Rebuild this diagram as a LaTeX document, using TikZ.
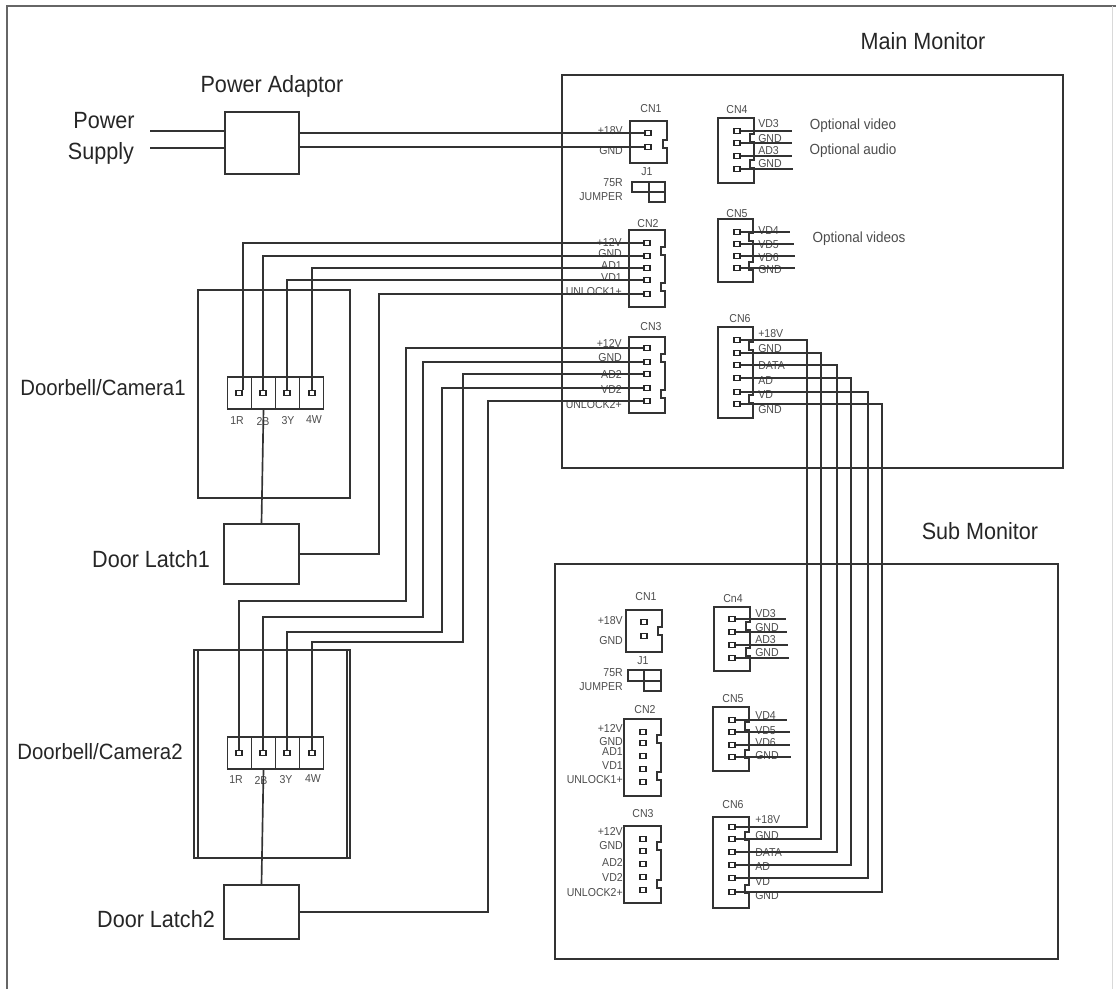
\documentclass[tikz,border=0pt]{standalone}
\usepackage{fontspec}
\setmainfont[FakeStretch=0.92]{Liberation Sans}
\usepackage{tikz}

\tikzset{
  wire/.style={line width=1.25pt, draw=black!80},
  box/.style={shape=rectangle, draw=black!80, line width=1.25pt, inner sep=0pt},
  cell/.style={box, minimum width=18pt, minimum height=24pt},
  pin/.style={shape=rectangle, draw=black!85, fill=white, line width=0.9pt, inner sep=0pt, minimum width=4.6pt, minimum height=4pt},
  title/.style={inner sep=0pt, text=black!85, font=\fontsize{17.6}{20}\selectfont},
  camtitle/.style={title, font=\fontsize{16.6}{20}\selectfont},
  note/.style={inner sep=0pt, text=black!70, font=\fontsize{11}{12}\selectfont},
  tag/.style={inner sep=0pt, text=black!70, font=\fontsize{8.6}{10}\selectfont},
  tagr/.style={tag, anchor=east},
  tagl/.style={tag, anchor=west}
}

\newcommand{\housingone}[5]{\draw [wire] (#1,#2) -- (#3,#2) -- (#3,#5) -- (#3-4,#5) -- (#3-4,#5+8) -- (#3,#5+8) -- (#3,#4) -- (#1,#4) -- cycle;}
\newcommand{\housing}[6]{\draw [wire] (#1,#2) -- (#3,#2) -- (#3,#5) -- (#3-4,#5) -- (#3-4,#5+8) -- (#3,#5+8) -- (#3,#6) -- (#3-4,#6) -- (#3-4,#6+8) -- (#3,#6+8) -- (#3,#4) -- (#1,#4) -- cycle;}

\begin{document}
\begin{tikzpicture}[x=0.75pt, y=-0.75pt]
  \useasboundingbox (0,0) rectangle (1116,989);
  \draw [line width=1pt, draw=black!60] (7,989) -- (7,6) -- (1116,6);
  \draw [line width=0.5pt, draw=black!15] (1112,6) -- (1112,989);

  \node (mainname) at (923,41) [title] {Main Monitor};
  \node (subname) at (980,531) [title] {Sub Monitor};
  \node (adaptorname) at (272,86) [title] {Power Adaptor};
  \node (powername) at (104,121) [title] {Power};
  \node (supplyname) at (101,153) [title] {Supply};
  \node (camonename) at (103,388) [camtitle] {Doorbell/Camera1};
  \node (camtwoname) at (100,752) [camtitle] {Doorbell/Camera2};
  \node (latchonename) at (151,559) [title] {Door Latch1};
  \node (latchtwoname) at (156,919) [title] {Door Latch2};

  \node (main) at (812.5,271.5) [box, minimum width=375.75pt, minimum height=294.75pt] {};
  \node (sub) at (806.5,761.5) [box, minimum width=377.25pt, minimum height=296.25pt] {};
  \node (adaptor) at (262,143) [box, minimum width=55.5pt, minimum height=46.5pt] {};
  \node (camone) at (274,394) [box, minimum width=114pt, minimum height=156pt] {};
  \node (camtwo) at (272,754) [box, minimum width=117pt, minimum height=156pt] {};
  \node (camtwoin) at (272.5,754) [box, minimum width=111.75pt, minimum height=156pt] {};
  \node (latchone) at (261.5,554) [box, minimum width=56.25pt, minimum height=45pt] {};
  \node (latchtwo) at (261.5,912) [box, minimum width=56.25pt, minimum height=40.5pt] {};

  \node (a1) at (239.5,393) [cell] {};
  \node (a2) at (263.5,393) [cell] {};
  \node (a3) at (287.5,393) [cell] {};
  \node (a4) at (311.5,393) [cell] {};
  \node (b1) at (239.5,753) [cell] {};
  \node (b2) at (263.5,753) [cell] {};
  \node (b3) at (287.5,753) [cell] {};
  \node (b4) at (311.5,753) [cell] {};
  \node (c1) at (239,393) [pin] {};
  \node (c2) at (263,393) [pin] {};
  \node (c3) at (287,393) [pin] {};
  \node (c4) at (312,393) [pin] {};
  \node (d1) at (239,753) [pin] {};
  \node (d2) at (263,753) [pin] {};
  \node (d3) at (287,753) [pin] {};
  \node (d4) at (312,753) [pin] {};
  \node (a1name) at (237,421) [tag] {1R};
  \node (a2name) at (263,421) [tag] {2B};
  \node (a3name) at (288,421) [tag] {3Y};
  \node (a4name) at (314,420) [tag] {4W};
  \node (b1name) at (236,780) [tag] {1R};
  \node (b2name) at (261,780) [tag] {2B};
  \node (b3name) at (286,780) [tag] {3Y};
  \node (b4name) at (313,779) [tag] {4W};

  \housingone{630}{121}{667}{163}{140}
  \housing{629}{230}{665}{307}{247}{283}
  \housing{629}{337}{665}{413}{354}{390}
  \housing{718}{118}{754}{183}{134}{160}
  \housing{718}{219}{753}{282}{233}{262}
  \housing{718}{327}{753}{418}{342}{395}
  \housingone{626}{610}{662}{652}{627}
  \housing{624}{719}{661}{796}{735}{772}
  \housing{624}{826}{661}{903}{842}{880}
  \housing{714}{607}{750}{671}{622}{648}
  \housing{713}{707}{749}{771}{722}{750}
  \housing{713}{817}{749}{908}{832}{885}
  \draw [wire] (632,182) rectangle (665,192);
  \draw [wire] (649,182) rectangle (665,202);
  \draw [wire] (628,670) rectangle (661,681);
  \draw [wire] (644,670) rectangle (661,691);

  \node (m1name) at (651,109) [tag] {CN1};
  \node (m1t) at (623,131) [tagr] {+18V};
  \node (m1g) at (623,151) [tagr] {GND};
  \node (mjname) at (647,172) [tag] {J1};
  \node (mjt) at (623,183) [tagr] {75R};
  \node (mjb) at (623,197) [tagr] {JUMPER};
  \node (m2name) at (648,224) [tag] {CN2};
  \node (m2t) at (622,242) [tagr] {+12V};
  \node (m2g) at (622,254) [tagr] {GND};
  \node (m2v) at (622,266) [tagr] {AD1};
  \node (m2y) at (622,278) [tagr] {VD1};
  \node (m2u) at (622,292) [tagr] {UNLOCK1+};
  \node (m3name) at (651,327) [tag] {CN3};
  \node (m3t) at (622,343) [tagr] {+12V};
  \node (m3g) at (622,358) [tagr] {GND};
  \node (m3v) at (622,374) [tagr] {AD2};
  \node (m3y) at (622,389) [tagr] {VD2};
  \node (m3u) at (622,405) [tagr] {UNLOCK2+};
  \node (m4name) at (737,110) [tag] {CN4};
  \node (m4a) at (758,124) [tagl] {VD3};
  \node (m4b) at (758,139) [tagl] {GND};
  \node (m4c) at (758,151) [tagl] {AD3};
  \node (m4d) at (758,164) [tagl] {GND};
  \node (m5name) at (737,214) [tag] {CN5};
  \node (m5a) at (758,231) [tagl] {VD4};
  \node (m5b) at (758,245) [tagl] {VD5};
  \node (m5c) at (758,258) [tagl] {VD6};
  \node (m5d) at (758,270) [tagl] {GND};
  \node (m6name) at (740,319) [tag] {CN6};
  \node (m6a) at (758,334) [tagl] {+18V};
  \node (m6b) at (758,349) [tagl] {GND};
  \node (m6c) at (758,366) [tagl] {DATA};
  \node (m6d) at (758,381) [tagl] {AD};
  \node (m6e) at (758,395) [tagl] {VD};
  \node (m6f) at (758,410) [tagl] {GND};
  \node (videonote) at (853,126) [note] {Optional video};
  \node (audionote) at (853,151) [note] {Optional audio};
  \node (videosnote) at (859,239) [note] {Optional videos};

  \node (s1name) at (646,597) [tag] {CN1};
  \node (s1t) at (623,621) [tagr] {+18V};
  \node (s1g) at (623,641) [tagr] {GND};
  \node (sjname) at (643,661) [tag] {J1};
  \node (sjt) at (623,673) [tagr] {75R};
  \node (sjb) at (623,687) [tagr] {JUMPER};
  \node (s2name) at (645,710) [tag] {CN2};
  \node (s2t) at (623,728) [tagr] {+12V};
  \node (s2g) at (623,742) [tagr] {GND};
  \node (s2v) at (623,752) [tagr] {AD1};
  \node (s2y) at (623,766) [tagr] {VD1};
  \node (s2u) at (623,780) [tagr] {UNLOCK1+};
  \node (s3name) at (643,814) [tag] {CN3};
  \node (s3t) at (623,831) [tagr] {+12V};
  \node (s3g) at (623,846) [tagr] {GND};
  \node (s3v) at (623,862) [tagr] {AD2};
  \node (s3y) at (623,877) [tagr] {VD2};
  \node (s3u) at (623,893) [tagr] {UNLOCK2+};
  \node (s4name) at (733,599) [tag] {Cn4};
  \node (s4a) at (755,614) [tagl] {VD3};
  \node (s4b) at (755,628) [tagl] {GND};
  \node (s4c) at (755,640) [tagl] {AD3};
  \node (s4d) at (755,653) [tagl] {GND};
  \node (s5name) at (733,699) [tag] {CN5};
  \node (s5a) at (755,716) [tagl] {VD4};
  \node (s5b) at (755,731) [tagl] {VD5};
  \node (s5c) at (755,743) [tagl] {VD6};
  \node (s5d) at (755,756) [tagl] {GND};
  \node (s6name) at (733,805) [tag] {CN6};
  \node (s6a) at (755,820) [tagl] {+18V};
  \node (s6b) at (755,836) [tagl] {GND};
  \node (s6c) at (755,853) [tagl] {DATA};
  \node (s6d) at (755,867) [tagl] {AD};
  \node (s6e) at (755,882) [tagl] {VD};
  \node (s6f) at (755,896) [tagl] {GND};

  \node (p11) at (648,133) [pin] {};
  \node (p12) at (648,147) [pin] {};
  \node (p21) at (647,243) [pin] {};
  \node (p22) at (647,256) [pin] {};
  \node (p23) at (647,268) [pin] {};
  \node (p24) at (647,280) [pin] {};
  \node (p25) at (647,294) [pin] {};
  \node (p31) at (647,348) [pin] {};
  \node (p32) at (647,362) [pin] {};
  \node (p33) at (647,374) [pin] {};
  \node (p34) at (647,388) [pin] {};
  \node (p35) at (647,401) [pin] {};
  \node (p41) at (737,131) [pin] {};
  \node (p42) at (737,143) [pin] {};
  \node (p43) at (737,156) [pin] {};
  \node (p44) at (737,169) [pin] {};
  \node (p51) at (737,232) [pin] {};
  \node (p52) at (737,244) [pin] {};
  \node (p53) at (737,256) [pin] {};
  \node (p54) at (737,268) [pin] {};
  \node (p61) at (737,340) [pin] {};
  \node (p62) at (737,353) [pin] {};
  \node (p63) at (737,365) [pin] {};
  \node (p64) at (737,378) [pin] {};
  \node (p65) at (737,392) [pin] {};
  \node (p66) at (737,404) [pin] {};

  \node (q11) at (644,622) [pin] {};
  \node (q12) at (644,636) [pin] {};
  \node (q21) at (643,732) [pin] {};
  \node (q22) at (643,743) [pin] {};
  \node (q23) at (643,756) [pin] {};
  \node (q24) at (643,769) [pin] {};
  \node (q25) at (643,782) [pin] {};
  \node (q31) at (643,839) [pin] {};
  \node (q32) at (643,851) [pin] {};
  \node (q33) at (643,864) [pin] {};
  \node (q34) at (643,877) [pin] {};
  \node (q35) at (643,890) [pin] {};
  \node (q41) at (732,619) [pin] {};
  \node (q42) at (732,632) [pin] {};
  \node (q43) at (732,645) [pin] {};
  \node (q44) at (732,658) [pin] {};
  \node (q51) at (732,720) [pin] {};
  \node (q52) at (732,732) [pin] {};
  \node (q53) at (732,745) [pin] {};
  \node (q54) at (732,757) [pin] {};
  \node (q61) at (732,827) [pin] {};
  \node (q62) at (732,839) [pin] {};
  \node (q63) at (732,852) [pin] {};
  \node (q64) at (732,865) [pin] {};
  \node (q65) at (732,878) [pin] {};
  \node (q66) at (732,892) [pin] {};

  \coordinate (ina) at (150,131);
  \coordinate (inb) at (150,148);
  \draw [wire] (ina) -- (ina -| adaptor.west);
  \draw [wire] (inb) -- (inb -| adaptor.west);
  \draw [wire] (p11) -- (p11 -| adaptor.east);
  \draw [wire] (p12) -- (p12 -| adaptor.east);

  \draw [wire] (p21) -| (c1.north east);
  \draw [wire] (p22) -| (c2);
  \draw [wire] (p23) -| (c4);
  \draw [wire] (p24) -| (c3);
  \coordinate (bu) at (379,400);
  \draw [wire] (latchone.east) -| (bu) |- (p25);
  \draw [wire] (a2.south) -- (latchone.north);

  \coordinate (b31) at (406,601);
  \coordinate (b32) at (423,617);
  \coordinate (b33) at (463,642);
  \coordinate (b34) at (442,632);
  \coordinate (b35) at (488,700);
  \draw [wire] (p31) -| (b31) -| (d1);
  \draw [wire] (p32) -| (b32) -| (d2);
  \draw [wire] (p33) -| (b33) -| (d4);
  \draw [wire] (p34) -| (b34) -| (d3);
  \draw [wire] (latchtwo.east) -| (b35) |- (p35);
  \draw [wire] (b2.south) -- (latchtwo.north);

  \coordinate (e41) at (792,131);
  \coordinate (e42) at (792,143);
  \coordinate (e43) at (792,156);
  \coordinate (e44) at (793,169);
  \coordinate (e51) at (790,232);
  \coordinate (e52) at (794,244);
  \coordinate (e53) at (795,256);
  \coordinate (e54) at (795,268);
  \draw [wire] (p41) -- (e41);
  \draw [wire] (p42) -- (e42);
  \draw [wire] (p43) -- (e43);
  \draw [wire] (p44) -- (e44);
  \draw [wire] (p51) -- (e51);
  \draw [wire] (p52) -- (e52);
  \draw [wire] (p53) -- (e53);
  \draw [wire] (p54) -- (e54);
  \coordinate (f41) at (786,619);
  \coordinate (f42) at (787,632);
  \coordinate (f43) at (788,645);
  \coordinate (f44) at (789,658);
  \coordinate (f51) at (787,720);
  \coordinate (f52) at (790,732);
  \coordinate (f53) at (790,745);
  \coordinate (f54) at (791,757);
  \draw [wire] (q41) -- (f41);
  \draw [wire] (q42) -- (f42);
  \draw [wire] (q43) -- (f43);
  \draw [wire] (q44) -- (f44);
  \draw [wire] (q51) -- (f51);
  \draw [wire] (q52) -- (f52);
  \draw [wire] (q53) -- (f53);
  \draw [wire] (q54) -- (f54);

  \coordinate (v1) at (807,600);
  \coordinate (v2) at (821,600);
  \coordinate (v3) at (837,600);
  \coordinate (v4) at (851,600);
  \coordinate (v5) at (868,600);
  \coordinate (v6) at (882,600);
  \draw [wire] (p61) -| (v1) |- (q61);
  \draw [wire] (p62) -| (v2) |- (q62);
  \draw [wire] (p63) -| (v3) |- (q63);
  \draw [wire] (p64) -| (v4) |- (q64);
  \draw [wire] (p65) -| (v5) |- (q65);
  \draw [wire] (p66) -| (v6) |- (q66);
\end{tikzpicture}
\end{document}
